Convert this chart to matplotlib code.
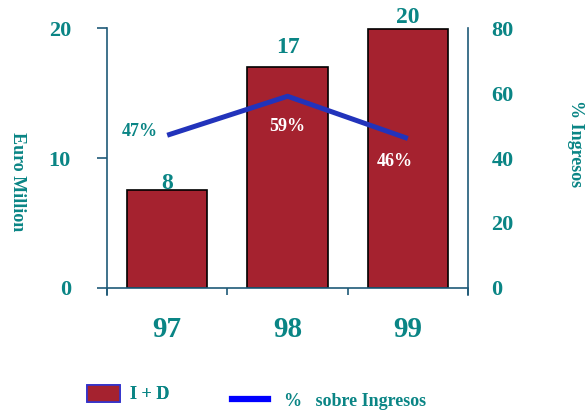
import matplotlib
matplotlib.use("Agg")
import matplotlib.pyplot as plt
from matplotlib.patches import Patch
from matplotlib.lines import Line2D

years = ["97", "98", "99"]
bar_values = [7.5, 17.0, 19.9]
bar_labels = ["8", "17", "20"]
pct_values = [47, 59, 46]
pct_labels = ["47%", "59%", "46%"]
left_ticks = [0, 10, 20]
right_ticks = [0, 20, 40, 60, 80]

TEAL = "#0A8585"
BAR = "#A5222F"
LINE = "#2233BB"
AX = "#1F5A78"
FONT = "Liberation Serif"

plt.rcParams["font.family"] = [FONT, "DejaVu Serif"]
plt.rcParams["font.weight"] = "bold"
plt.rcParams["axes.labelweight"] = "bold"

fig = plt.figure(figsize=(5.85, 4.12), dpi=100)
ax = fig.add_axes([0.183, 0.301, 0.617, 0.631])
x = list(range(len(years)))
ax.bar(x, bar_values, width=0.667, color=BAR, edgecolor="black", linewidth=1.2, zorder=2)
ax.set_xlim(-0.5, 2.5)
ax.set_ylim(0, 20)
ax.set_yticks(left_ticks)
ax.set_yticklabels([str(t) for t in left_ticks])
ax.tick_params(axis="y", direction="out", length=7, width=1.2, color=AX, pad=19,
               labelsize=16, labelcolor=TEAL)
ax.set_xticks([-0.5, 0.5, 1.5, 2.5])
ax.set_xticklabels([])
ax.tick_params(axis="x", which="major", direction="out", length=5, width=1.2, color=AX)
ax.set_xticks(x, minor=True)
ax.set_xticklabels(years, minor=True)
ax.tick_params(axis="x", which="minor", length=0, pad=20, labelsize=21, labelcolor=TEAL)
ax.spines["top"].set_visible(False)
ax.spines["right"].set_visible(False)
ax.spines["left"].set_color(AX)
ax.spines["left"].set_linewidth(1.2)
ax.spines["left"].set_bounds(-0.55, 20)
ax.spines["bottom"].set_color(AX)
ax.spines["bottom"].set_linewidth(1.2)
ax.set_ylabel("Euro Million", rotation=270, color=TEAL, fontsize=13)
ax.yaxis.set_label_coords(-0.272, 0.41)

label_gaps = [0.08, 1.08, 0.46]
for xi, v, lab, g in zip(x, bar_values, bar_labels, label_gaps):
    ax.text(xi, v + g, lab, ha="center", va="baseline", color=TEAL, fontsize=17)

ax2 = ax.twinx()
ax2.set_ylim(0, 80)
ax2.set_yticks(right_ticks)
ax2.set_yticklabels([str(t) for t in right_ticks])
ax2.tick_params(axis="y", length=0, pad=17, labelsize=16, labelcolor=TEAL)
ax2.spines["top"].set_visible(False)
ax2.spines["left"].set_visible(False)
ax2.spines["bottom"].set_visible(False)
ax2.spines["right"].set_color(AX)
ax2.spines["right"].set_linewidth(1.2)
ax2.spines["right"].set_bounds(-2.2, 80)
ax2.plot(x, pct_values, color=LINE, linewidth=3.6, solid_capstyle="butt", zorder=3)
ax2.set_ylabel("% Ingresos", rotation=270, color=TEAL, fontsize=13)
ax2.yaxis.set_label_coords(1.322, 0.554)

offsets = [(-0.23, 1.2, TEAL), (0.0, -9.2, "white"), (-0.11, -7.0, "white")]
for xi, v, lab, (dx, dy, c) in zip(x, pct_values, pct_labels, offsets):
    ax2.text(xi + dx, v + dy, lab, ha="center", va="center", color=c, fontsize=13)

prop = {"family": FONT, "weight": "bold", "size": 13}
leg1 = fig.legend([Patch(facecolor=BAR, edgecolor="#3333CC", linewidth=1.2)], ["I + D"],
                  loc="center left", bbox_to_anchor=(87 / 585, 1 - 394 / 412),
                  frameon=False, prop=prop, labelcolor=TEAL, borderpad=0,
                  borderaxespad=0, handlelength=1.85, handleheight=1.1,
                  handletextpad=0.55)
leg2 = fig.legend([Line2D([0], [0], color="#0000FF", linewidth=4.5)], ["%   sobre Ingresos"],
                  loc="center left", bbox_to_anchor=(232 / 585, 1 - 401 / 412),
                  frameon=False, prop=prop, labelcolor=TEAL, borderpad=0,
                  borderaxespad=0, handlelength=2.0, handletextpad=0.9)
fig.add_artist(leg1)

fig.savefig("out.png", dpi=100)
